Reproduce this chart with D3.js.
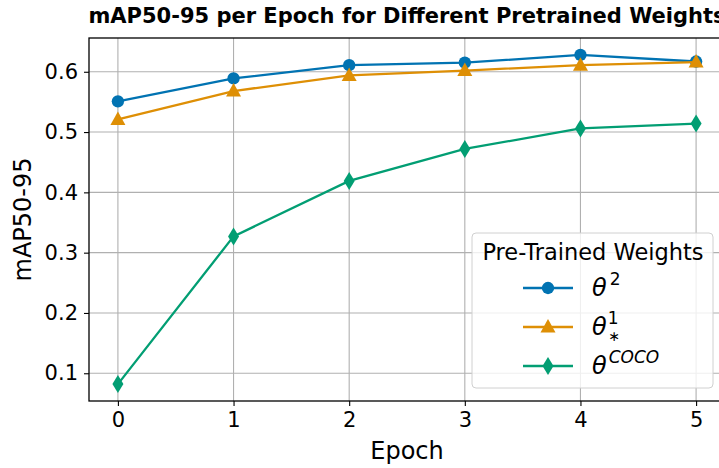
<!DOCTYPE html>
<html>
<head>
<meta charset="utf-8">
<title>mAP50-95 per Epoch</title>
<script src="https://d3js.org/d3.v7.min.js"></script>
<style>
  body { margin: 0; background: #fff; }
  svg { display: block; font-family: "DejaVu Sans", sans-serif; }
</style>
</head>
<body>
<svg id="chart" width="719" height="468"></svg>
<script>
// data
var epochs = [0, 1, 2, 3, 4, 5];
var theta2 = [0.551, 0.589, 0.611, 0.615, 0.628, 0.617];
var thetaStar1 = [0.521, 0.568, 0.594, 0.602, 0.611, 0.616];
var thetaCoco = [0.082, 0.327, 0.419, 0.472, 0.506, 0.514];
var yTicks = [0.1, 0.2, 0.3, 0.4, 0.5, 0.6];

var series = [
  {key: "t2", values: theta2, color: "#0173b2", marker: "circle"},
  {key: "t1", values: thetaStar1, color: "#de8f05", marker: "triangle"},
  {key: "tc", values: thetaCoco, color: "#029e73", marker: "diamond"}
];

var svg = d3.select("#chart");
var plotLeft = 89, plotRight = 725, plotTop = 38, plotBottom = 401;

var x = d3.scaleLinear().domain([-0.25, 5.25]).range([plotLeft, plotRight]);
var y = d3.scaleLinear().domain([0.054, 0.656]).range([plotBottom, plotTop]);

// grid
svg.append("g").selectAll("line").data(epochs).join("line")
  .attr("x1", d => x(d)).attr("x2", d => x(d))
  .attr("y1", plotTop).attr("y2", plotBottom)
  .attr("stroke", "#b0b0b0").attr("stroke-width", 1.1);
svg.append("g").selectAll("line").data(yTicks).join("line")
  .attr("x1", plotLeft).attr("x2", plotRight)
  .attr("y1", d => y(d)).attr("y2", d => y(d))
  .attr("stroke", "#b0b0b0").attr("stroke-width", 1.1);

// axes
var xAxis = svg.append("g").attr("transform", "translate(0," + plotBottom + ")")
  .call(d3.axisBottom(x).tickValues(epochs).tickFormat(d3.format("d")).tickSize(5).tickPadding(6));
var yAxis = svg.append("g").attr("transform", "translate(" + plotLeft + ",0)")
  .call(d3.axisLeft(y).tickValues(yTicks).tickFormat(d3.format(".1f")).tickSize(5).tickPadding(6));
[xAxis, yAxis].forEach(function(a){
  a.select(".domain").remove();
  a.selectAll("text").attr("font-size", 21).attr("fill", "#000").attr("font-family", "DejaVu Sans");
  a.selectAll("line").attr("stroke", "#000").attr("stroke-width", 1.1);
});

// spines
svg.append("rect").attr("x", plotLeft).attr("y", plotTop)
  .attr("width", plotRight - plotLeft).attr("height", plotBottom - plotTop)
  .attr("fill", "none").attr("stroke", "#000").attr("stroke-width", 1.3);

function markerPath(type) {
  if (type == "circle") return d3.symbol(d3.symbolCircle, 120)();
  if (type == "triangle") return "M0,-8L7.5,5.5L-7.5,5.5Z";
  return "M0,-9L5.5,0L0,9L-5.5,0Z";
}

var line = d3.line().x((d, i) => x(epochs[i])).y(d => y(d));

series.forEach(function(s){
  svg.append("path").datum(s.values)
    .attr("d", line).attr("fill", "none")
    .attr("stroke", s.color).attr("stroke-width", 2.3);
  svg.append("g").selectAll("path").data(s.values).join("path")
    .attr("d", markerPath(s.marker))
    .attr("transform", (d, i) => "translate(" + x(epochs[i]) + "," + y(d) + ")")
    .attr("fill", s.color);
});

// title & labels
svg.append("text").attr("x", (plotLeft + plotRight) / 2).attr("y", 23)
  .attr("text-anchor", "middle").attr("font-weight", "bold").attr("font-size", 21)
  .text("mAP50-95 per Epoch for Different Pretrained Weights");
svg.append("text").attr("x", (plotLeft + plotRight) / 2).attr("y", 459)
  .attr("text-anchor", "middle").attr("font-size", 24).text("Epoch");
svg.append("text").attr("transform", "translate(31," + ((plotTop + plotBottom) / 2) + ") rotate(-90)")
  .attr("text-anchor", "middle").attr("font-size", 24).text("mAP50-95");

// legend
var lg = svg.append("g");
lg.append("rect").attr("x", 472).attr("y", 233).attr("width", 241).attr("height", 155)
  .attr("rx", 4).attr("fill", "#fff").attr("fill-opacity", 0.8)
  .attr("stroke", "#d0d0d0").attr("stroke-width", 1);
lg.append("text").attr("x", 593).attr("y", 260).attr("text-anchor", "middle")
  .attr("font-size", 22.5).text("Pre-Trained Weights");
var rowY = [288, 327, 366];
series.forEach(function(s, i){
  lg.append("line").attr("x1", 523).attr("x2", 573).attr("y1", rowY[i]).attr("y2", rowY[i])
    .attr("stroke", s.color).attr("stroke-width", 2.3);
  lg.append("path").attr("d", markerPath(s.marker))
    .attr("transform", "translate(548," + rowY[i] + ")").attr("fill", s.color);
});
function theta(yy) {
  return lg.append("text").attr("x", 592).attr("y", yy + 8).attr("font-size", 24);
}
var t0 = theta(rowY[0]);
t0.append("tspan").attr("font-style", "italic").text("θ");
t0.append("tspan").attr("dx", 3).attr("dy", -11).attr("font-size", 17).text("2");
var t1 = theta(rowY[1]);
t1.append("tspan").attr("font-style", "italic").text("θ");
t1.append("tspan").attr("dx", 1).attr("dy", -11).attr("font-size", 17).text("1");
t1.append("tspan").attr("dx", -10).attr("dy", 17).attr("font-size", 14).text("∗");
var t2 = theta(rowY[2]);
t2.append("tspan").attr("font-style", "italic").text("θ");
t2.append("tspan").attr("dx", 2).attr("dy", -11).attr("font-size", 17)
  .attr("font-style", "italic").text("COCO");
</script>
</body>
</html>
